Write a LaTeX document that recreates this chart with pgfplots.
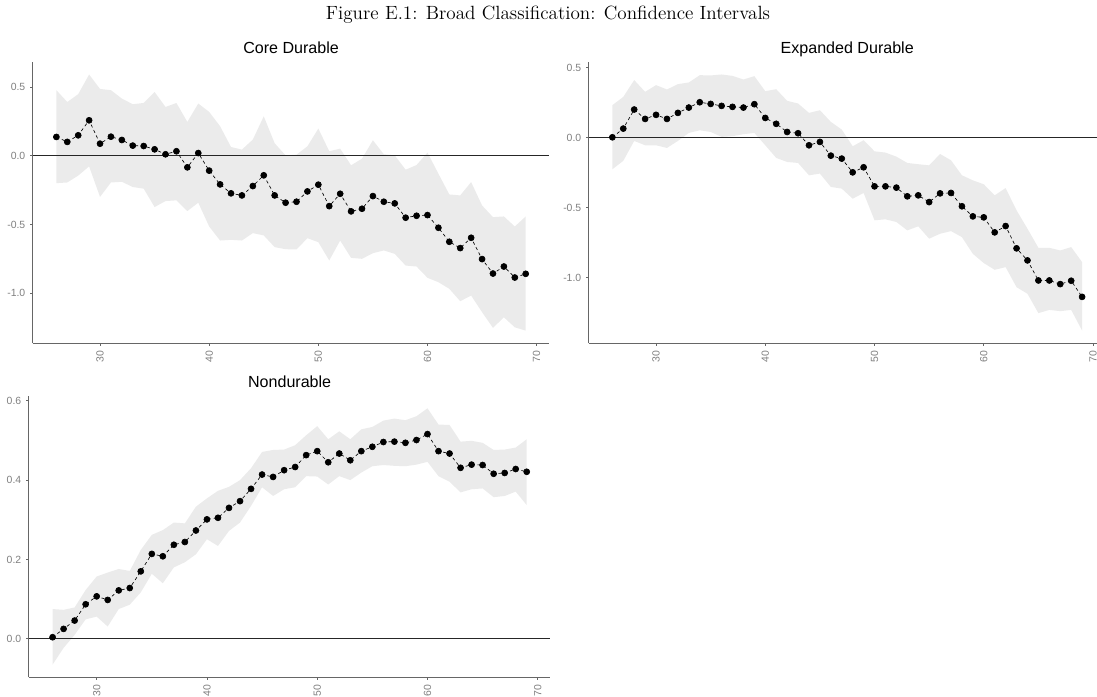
\documentclass[border=0pt]{standalone}
\usepackage{fontspec}
\newfontfamily\arial{Liberation Sans}
\usepackage{pgfplots}
\usepackage{pgfplotstable}
\pgfplotsset{compat=1.18}
\usepgfplotslibrary{fillbetween}

\definecolor{ribbon}{HTML}{EBEBEB}
\definecolor{tickgray}{HTML}{7F7F7F}
\definecolor{axisgray}{HTML}{666666}

% age, point estimate, lower and upper confidence bounds
\pgfplotstableread{
age est lo hi
26 0.136 -0.200 0.476
27 0.100 -0.195 0.390
28 0.148 -0.145 0.447
29 0.257 -0.078 0.590
30 0.087 -0.300 0.485
31 0.138 -0.195 0.476
32 0.114 -0.190 0.415
33 0.073 -0.228 0.374
34 0.070 -0.240 0.383
35 0.046 -0.374 0.463
36 0.010 -0.330 0.354
37 0.032 -0.325 0.383
38 -0.085 -0.403 0.245
39 0.019 -0.342 0.379
40 -0.109 -0.515 0.318
41 -0.209 -0.617 0.214
42 -0.274 -0.612 0.063
43 -0.289 -0.617 0.044
44 -0.221 -0.563 0.117
45 -0.143 -0.580 0.286
46 -0.289 -0.665 0.090
47 -0.342 -0.680 0.002
48 -0.335 -0.682 0.007
49 -0.260 -0.600 0.068
50 -0.211 -0.629 0.197
51 -0.367 -0.762 0.032
52 -0.277 -0.617 0.051
53 -0.405 -0.743 -0.070
54 -0.386 -0.750 -0.022
55 -0.294 -0.709 0.112
56 -0.335 -0.689 0.010
57 -0.347 -0.714 0.002
58 -0.451 -0.799 -0.102
59 -0.437 -0.806 -0.068
60 -0.432 -0.888 0.022
61 -0.524 -0.920 -0.131
62 -0.626 -0.968 -0.282
63 -0.672 -1.058 -0.289
64 -0.597 -1.017 -0.192
65 -0.752 -1.138 -0.362
66 -0.857 -1.252 -0.447
67 -0.806 -1.175 -0.442
68 -0.886 -1.248 -0.515
69 -0.859 -1.272 -0.442
}\coredurable

\pgfplotstableread{
age est lo hi
26 0.002 -0.226 0.231
27 0.064 -0.166 0.290
28 0.200 -0.024 0.410
29 0.133 -0.055 0.326
30 0.162 -0.055 0.374
31 0.133 -0.074 0.343
32 0.176 -0.024 0.381
33 0.214 0.033 0.393
34 0.252 0.052 0.445
35 0.240 0.040 0.443
36 0.226 0.005 0.450
37 0.219 0.010 0.440
38 0.214 0.024 0.414
39 0.238 0.033 0.438
40 0.140 -0.055 0.331
41 0.098 -0.145 0.345
42 0.040 -0.174 0.262
43 0.031 -0.181 0.243
44 -0.055 -0.269 0.176
45 -0.031 -0.257 0.195
46 -0.129 -0.352 0.112
47 -0.150 -0.364 0.057
48 -0.248 -0.436 -0.062
49 -0.212 -0.395 -0.019
50 -0.348 -0.590 -0.098
51 -0.348 -0.583 -0.107
52 -0.357 -0.602 -0.136
53 -0.419 -0.662 -0.181
54 -0.412 -0.633 -0.190
55 -0.460 -0.721 -0.198
56 -0.398 -0.686 -0.117
57 -0.395 -0.667 -0.162
58 -0.490 -0.710 -0.269
59 -0.562 -0.829 -0.305
60 -0.569 -0.895 -0.333
61 -0.676 -0.943 -0.412
62 -0.631 -0.924 -0.360
63 -0.790 -1.067 -0.519
64 -0.876 -1.114 -0.650
65 -1.019 -1.252 -0.786
66 -1.019 -1.229 -0.786
67 -1.045 -1.238 -0.805
68 -1.021 -1.229 -0.781
69 -1.136 -1.376 -0.888
}\expandeddurable

\pgfplotstableread{
age est lo hi
26 0.004 -0.065 0.075
27 0.025 -0.023 0.073
28 0.046 0.010 0.079
29 0.087 0.049 0.123
30 0.107 0.056 0.157
31 0.098 0.031 0.167
32 0.122 0.075 0.176
33 0.128 0.086 0.171
34 0.170 0.117 0.224
35 0.214 0.164 0.262
36 0.208 0.140 0.274
37 0.237 0.180 0.293
38 0.244 0.193 0.291
39 0.273 0.213 0.333
40 0.301 0.251 0.354
41 0.305 0.234 0.373
42 0.330 0.272 0.383
43 0.347 0.293 0.400
44 0.378 0.335 0.430
45 0.414 0.382 0.471
46 0.408 0.360 0.476
47 0.425 0.377 0.477
48 0.433 0.382 0.488
49 0.463 0.410 0.513
50 0.473 0.409 0.536
51 0.445 0.389 0.503
52 0.467 0.410 0.523
53 0.450 0.400 0.503
54 0.473 0.419 0.528
55 0.484 0.435 0.534
56 0.496 0.438 0.550
57 0.497 0.436 0.555
58 0.494 0.435 0.551
59 0.501 0.439 0.561
60 0.516 0.446 0.581
61 0.473 0.410 0.540
62 0.467 0.396 0.539
63 0.431 0.369 0.497
64 0.439 0.377 0.499
65 0.438 0.379 0.494
66 0.416 0.357 0.476
67 0.418 0.360 0.477
68 0.428 0.371 0.482
69 0.421 0.337 0.503
}\nondurable

\pgfplotsset{
  panel/.style={
    scale only axis,
    axis lines*=left,
    axis line style={draw=axisgray, line width=0.7pt},
    tick align=outside,
    major tick length=1.8pt,
    tick style={draw=axisgray, line width=0.5pt},
    xmin=23.85, xmax=71.15,
    xtick={30,40,50,60,70},
    xticklabels={30,40,50,60,70},
    x tick label style={rotate=90, anchor=east, text=tickgray,
      font=\arial\fontsize{7.3}{8}\selectfont},
    y tick label style={text=tickgray, font=\arial\fontsize{7.3}{8}\selectfont},
    % the default title style already lifts the title 6pt above the frame
    title style={font=\arial\fontsize{11.25}{13}\selectfont, anchor=base},
    clip=false,
  },
  band/.style={fill=ribbon, draw=none},
  zeroline/.style={black!85, line width=0.6pt},
  estimate/.style={black, line width=0.45pt,
    dash pattern=on 2.2pt off 2pt,
    mark=*, mark size=2.1pt, mark options={solid, fill=black}},
}

\begin{document}
\begin{tikzpicture}
\node[anchor=base] at (383.6pt,473.6pt)
  {\fontsize{13.4}{16}\selectfont Figure E.1: Broad Classification: Confidence Intervals};

% Core durable
\begin{axis}[panel, at={(23.03pt,246.9pt)}, anchor=south west,
  width=361.4pt, height=197.1pt,
  ymin=-1.364, ymax=0.683,
  ytick={-1,-0.5,0,0.5}, yticklabels={-1.0,-0.5,0.0,0.5},
  title={Core Durable}]
  \addplot[name path=hi, draw=none] table[x=age, y=hi]{\coredurable};
  \addplot[name path=lo, draw=none] table[x=age, y=lo]{\coredurable};
  \addplot[band] fill between[of=hi and lo];
  \addplot[zeroline] coordinates {(23.85,0) (71.15,0)};
  \addplot[estimate] table[x=age, y=est]{\coredurable};
\end{axis}

% Expanded durable
\begin{axis}[panel, at={(412.2pt,246.9pt)}, anchor=south west,
  width=361.7pt, height=197.1pt,
  ymin=-1.467, ymax=0.541,
  ytick={-1,-0.5,0,0.5}, yticklabels={-1.0,-0.5,0.0,0.5},
  title={Expanded Durable}]
  \addplot[name path=hi, draw=none] table[x=age, y=hi]{\expandeddurable};
  \addplot[name path=lo, draw=none] table[x=age, y=lo]{\expandeddurable};
  \addplot[band] fill between[of=hi and lo];
  \addplot[zeroline] coordinates {(23.85,0) (71.15,0)};
  \addplot[estimate] table[x=age, y=est]{\expandeddurable};
\end{axis}

% Nondurable
\begin{axis}[panel, at={(20.2pt,13.1pt)}, anchor=south west,
  width=365.1pt, height=196.9pt,
  ymin=-0.097, ymax=0.612,
  ytick={0,0.2,0.4,0.6}, yticklabels={0.0,0.2,0.4,0.6},
  title={Nondurable}]
  \addplot[name path=hi, draw=none] table[x=age, y=hi]{\nondurable};
  \addplot[name path=lo, draw=none] table[x=age, y=lo]{\nondurable};
  \addplot[band] fill between[of=hi and lo];
  \addplot[zeroline] coordinates {(23.85,0) (71.15,0)};
  \addplot[estimate] table[x=age, y=est]{\nondurable};
\end{axis}

% page extent: the right-hand panel runs past the right edge
\pgfresetboundingbox
\useasboundingbox (0,0) rectangle (767.9pt,487.2pt);
\end{tikzpicture}
\end{document}
